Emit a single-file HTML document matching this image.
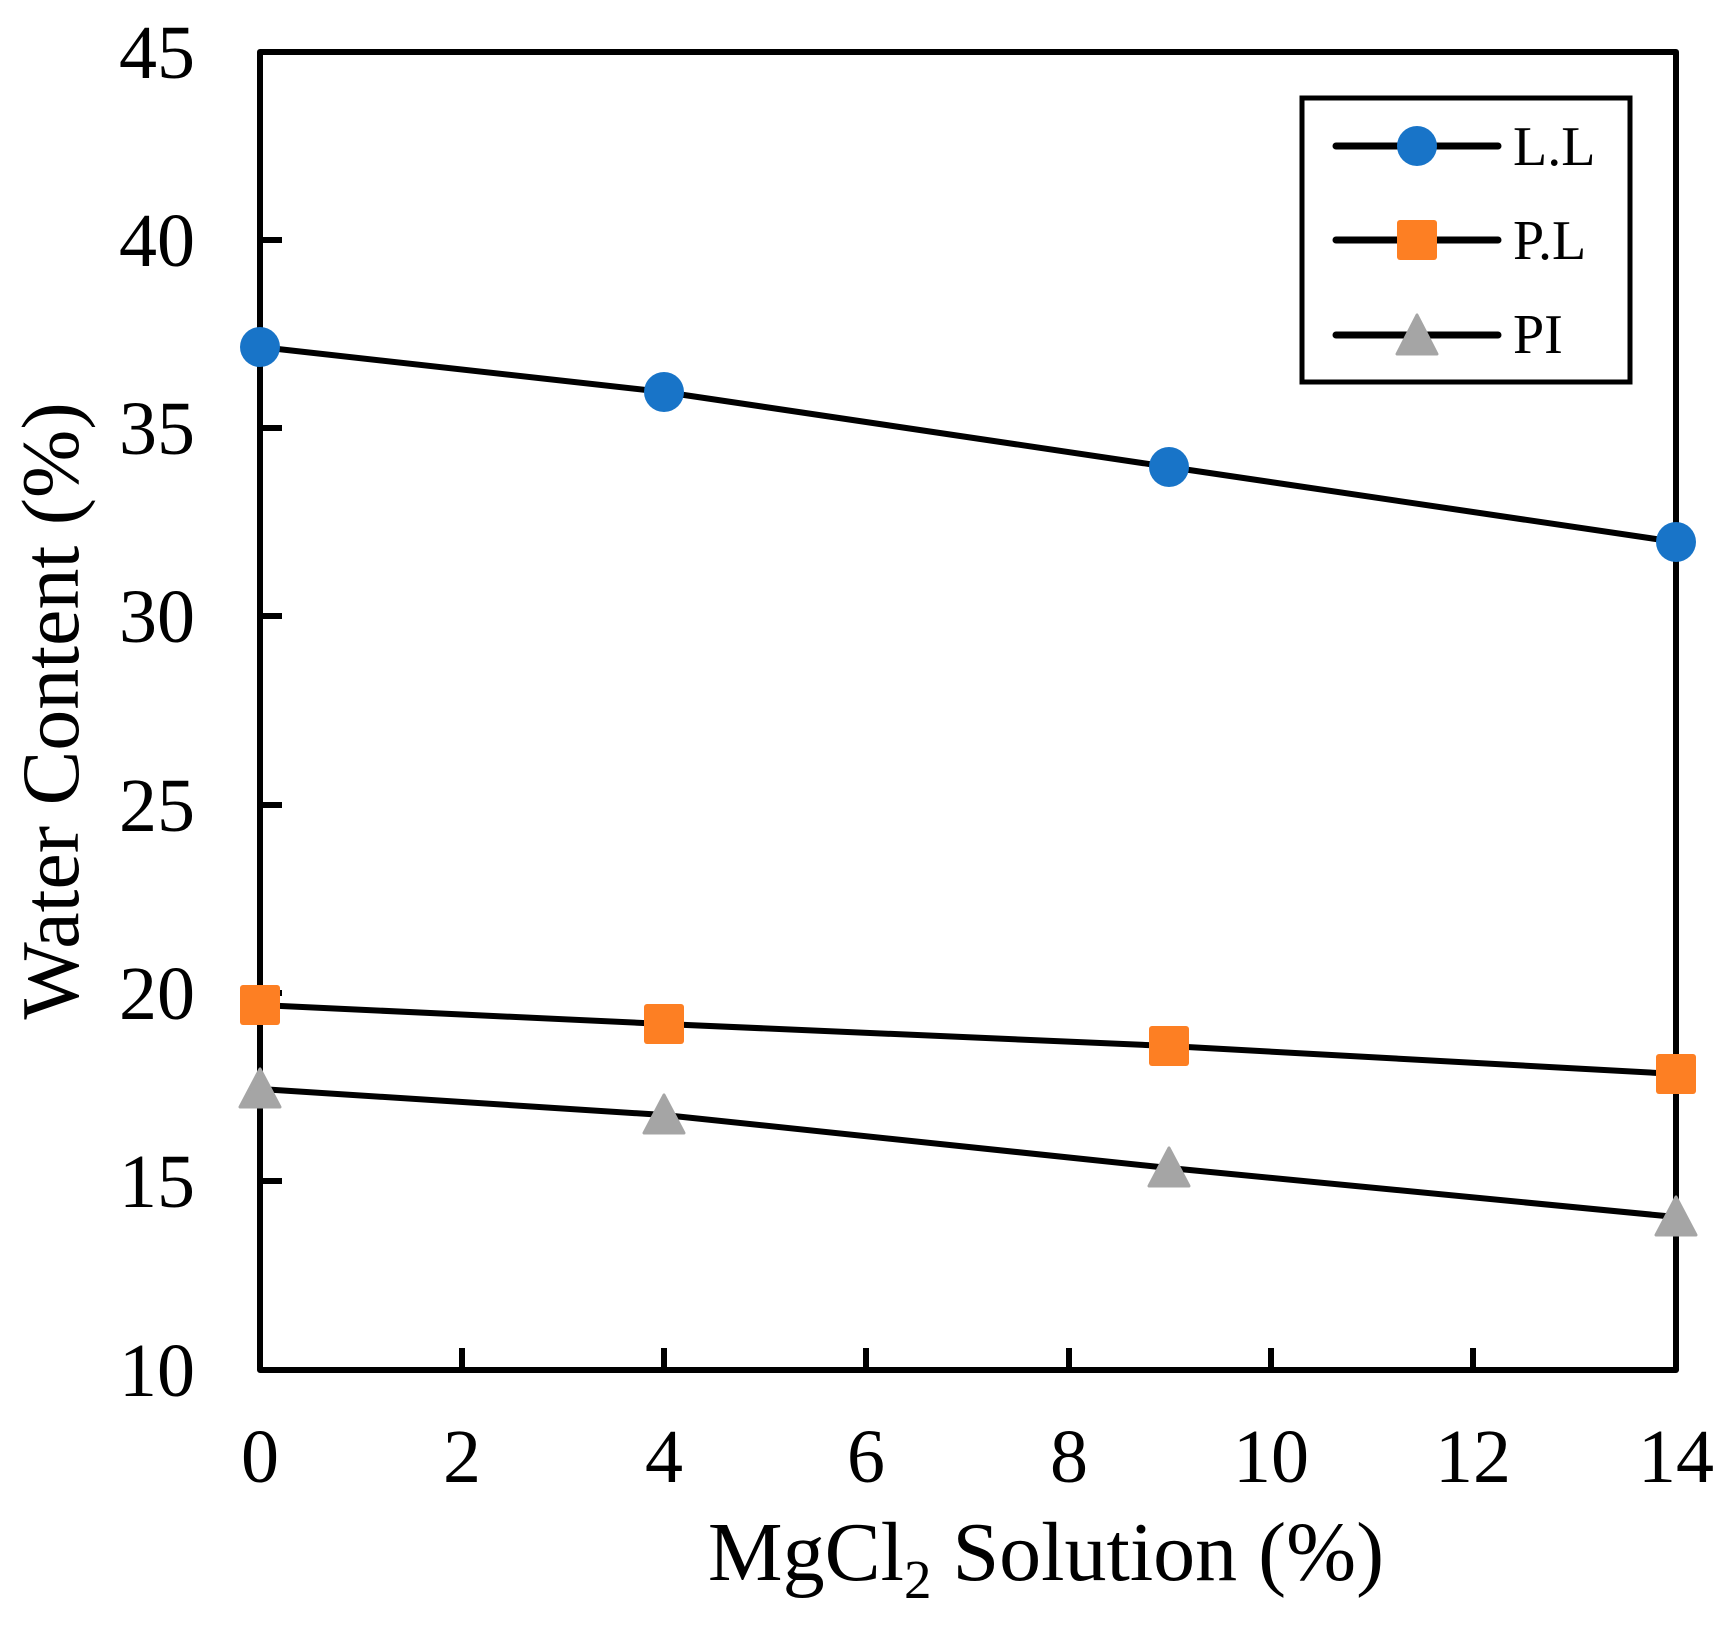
<!DOCTYPE html>
<html><head><style>html,body{margin:0;padding:0;background:#fff}</style></head><body>
<svg width="1731" height="1622" viewBox="0 0 1731 1622" xmlns="http://www.w3.org/2000/svg" font-family="Liberation Serif, serif">
<rect width="1731" height="1622" fill="#fff"/>
<g stroke="#000" stroke-width="6" fill="none" stroke-linejoin="round">
<rect x="260" y="52" width="1416" height="1318"/>
<path d="M260 240h22M260 428h22M260 616h22M260 805h22M260 993h22M260 1181h22"/>
<path d="M462 1370v-22M664 1370v-22M866 1370v-22M1069 1370v-22M1271 1370v-22M1473 1370v-22"/>
</g>
<g font-size="76" text-anchor="end" fill="#000">
<text x="195" y="78">45</text><text x="195" y="266">40</text><text x="195" y="454">35</text>
<text x="195" y="642">30</text><text x="195" y="831">25</text><text x="195" y="1019">20</text>
<text x="195" y="1207">15</text><text x="195" y="1396">10</text>
</g>
<g font-size="76" text-anchor="middle" fill="#000">
<text x="260" y="1482">0</text><text x="462" y="1482">2</text><text x="664" y="1482">4</text>
<text x="866" y="1482">6</text><text x="1069" y="1482">8</text><text x="1271" y="1482">10</text>
<text x="1473" y="1482">12</text><text x="1676" y="1482">14</text>
</g>
<text x="1046" y="1580" font-size="84" text-anchor="middle">MgCl<tspan font-size="55" dy="18">2</tspan><tspan dy="-18"> Solution (%)</tspan></text>
<text transform="translate(78,711) rotate(-90)" font-size="82" text-anchor="middle">Water Content (%)</text>
<g stroke="#000" stroke-width="6" fill="none">
<polyline points="260,347 664,392 1169,467 1676,542"/>
<polyline points="260,1005 664,1024 1169,1046 1676,1074"/>
<polyline points="260,1089 664,1115 1169,1168 1676,1217"/>
</g>
<g fill="#1874c8">
<circle cx="260" cy="347" r="20"/><circle cx="664" cy="392" r="20"/><circle cx="1169" cy="467" r="20"/><circle cx="1676" cy="542" r="20"/>
</g>
<g fill="#fd7f23">
<rect x="240" y="985" width="40" height="40" rx="3"/><rect x="644" y="1004" width="40" height="40" rx="3"/><rect x="1149" y="1026" width="40" height="40" rx="3"/><rect x="1656" y="1054" width="40" height="40" rx="3"/>
</g>
<g fill="#a5a5a5" stroke="#a5a5a5" stroke-width="3" stroke-linejoin="round">
<polygon points="260,1069 240,1107 280,1107"/><polygon points="664,1095 644,1133 684,1133"/><polygon points="1169,1148 1149,1186 1189,1186"/><polygon points="1676,1197 1656,1235 1696,1235"/>
</g>
<rect x="1302" y="98" width="328" height="284" fill="#fff" stroke="#000" stroke-width="5"/>
<g stroke="#000" stroke-width="7" stroke-linecap="round">
<path d="M1336 146h162M1336 240h162M1336 335h162"/>
</g>
<circle cx="1417" cy="146" r="20" fill="#1874c8"/>
<rect x="1397" y="220" width="40" height="40" rx="3" fill="#fd7f23"/>
<polygon points="1417,315 1397,354 1437,354" fill="#a5a5a5" stroke="#a5a5a5" stroke-width="3" stroke-linejoin="round"/>
<g font-size="56" fill="#000">
<text x="1513" y="165">L.L</text><text x="1513" y="259">P.L</text><text x="1513" y="353">PI</text>
</g>
</svg>
</body></html>
